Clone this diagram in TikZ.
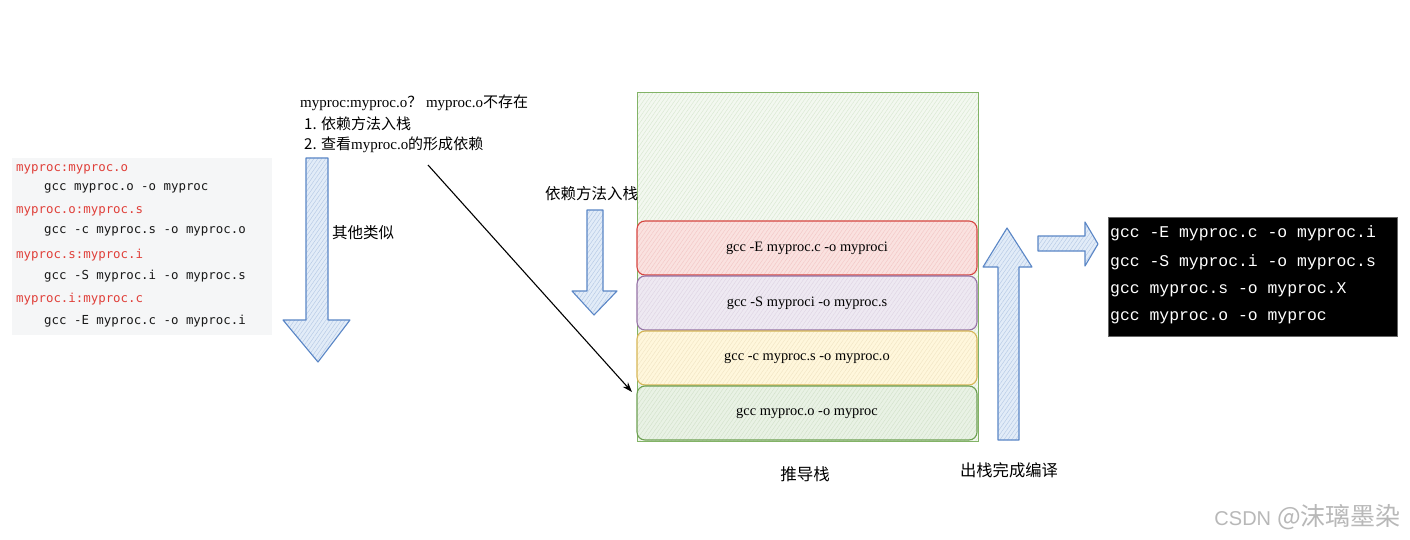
\documentclass[tikz,border=0pt]{standalone}
\usepackage{fontspec}
\setmainfont{Liberation Serif}
\setmonofont{DejaVu Sans Mono}
\newfontfamily\cjk{Noto Sans CJK SC}
\newfontfamily\cmono{Liberation Mono}
\newfontfamily\wmsans{Liberation Sans}
\usetikzlibrary{patterns.meta,arrows.meta}
\definecolor{codebg}{HTML}{F5F6F7}
\definecolor{codered}{HTML}{E0403A}
\definecolor{arrowblue}{HTML}{5A86C6}
\definecolor{arrowfill}{HTML}{E2ECF8}
\definecolor{grn}{HTML}{82B366}
\definecolor{grnfill}{HTML}{F3F8F0}
\definecolor{redb}{HTML}{D64540}
\definecolor{redfill}{HTML}{FAE2E0}
\definecolor{purb}{HTML}{9673A6}
\definecolor{purfill}{HTML}{EEE9F2}
\definecolor{yelb}{HTML}{D6B656}
\definecolor{yelfill}{HTML}{FFF7DC}
\definecolor{grnb2}{HTML}{6DA052}
\definecolor{grnfill2}{HTML}{E9F2E5}
\tikzset{
  codelbl/.style={anchor=west, inner sep=0pt, font=\ttfamily\fontsize{12.4}{14}\selectfont, text=codered},
  codecmd/.style={anchor=west, inner sep=0pt, font=\ttfamily\fontsize{12.4}{14}\selectfont, text=black!90},
  hatch/.style={pattern={Lines[angle=55,distance=3.2pt,line width=0.45pt]}, pattern color=#1},
  blockarrow/.style={draw=arrowblue, line width=1.1pt, line join=round,
     preaction={fill=arrowfill}, hatch=arrowblue!45},
  cjklbl/.style={inner sep=0pt, font=\cjk\fontsize{15.5}{18}\selectfont},
  toptext/.style={anchor=west, inner sep=0pt, font=\fontsize{15}{18}\selectfont},
  stackrow/.style={rounded corners=8pt, line width=1.1pt, minimum width=340pt, minimum height=54pt, inner sep=0pt,
     font=\fontsize{14.4}{17}\selectfont},
  termline/.style={anchor=west, inner sep=0pt, font=\cmono\fontsize{16.4}{19}\selectfont, text=white},
}
\begin{document}
\begin{tikzpicture}[x=1pt,y=-1pt]
\useasboundingbox (0,0) rectangle (1410,540);
\fill[white] (0,0) rectangle (1410,540);

% left code box
\node[fill=codebg, minimum width=260pt, minimum height=177pt, inner sep=0pt, anchor=north west] (codebox) at (12,158) {};
\node[codelbl] (l1) at (16,169) {myproc:myproc.o};
\node[codecmd] (c1) at (44,188) {gcc myproc.o -o myproc};
\node[codelbl] (l2) at (16,211) {myproc.o:myproc.s};
\node[codecmd] (c2) at (44,231) {gcc -c myproc.s -o myproc.o};
\node[codelbl] (l3) at (16,255) {myproc.s:myproc.i};
\node[codecmd] (c3) at (44,276) {gcc -S myproc.i -o myproc.s};
\node[codelbl] (l4) at (16,299) {myproc.i:myproc.c};
\node[codecmd] (c4) at (44,321) {gcc -E myproc.c -o myproc.i};

% big down arrow
\draw[blockarrow] (306,158) -- (328,158) -- (328,320) -- (350,320) -- (318,362) -- (283,320) -- (306,320) -- cycle;
\node[cjklbl, anchor=west] (similar) at (332,233) {其他类似};

% top explanation text
\node[toptext] (t1) at (300,103) {myproc:myproc.o{\cjk ？} myproc.o{\cjk 不存在}};
\node[toptext] (t2) at (304,124) {{\cjk 1. 依赖方法入栈}};
\node[toptext] (t3) at (304,145) {{\cjk 2. 查看}myproc.o{\cjk 的形成依赖}};

% stack
\node[draw=grn, line width=1.2pt, preaction={fill=grnfill}, hatch=grn!30,
      minimum width=341pt, minimum height=349pt, inner sep=0pt, anchor=north west] (stack) at (637,92) {};
\node[stackrow, draw=redb, preaction={fill=redfill}, hatch=redb!30] (r1) at (807,248) {gcc -E myproc.c -o myproci};
\node[stackrow, draw=purb, preaction={fill=purfill}, hatch=purb!30] (r2) at (807,303) {gcc -S myproci -o myproc.s};
\node[stackrow, draw=yelb, preaction={fill=yelfill}, hatch=yelb!35] (r3) at (807,358) {gcc -c myproc.s -o myproc.o};
\node[stackrow, draw=grnb2, preaction={fill=grnfill2}, hatch=grnb2!30] (r4) at (807,413) {gcc myproc.o -o myproc};
\node[cjklbl, font=\cjk\fontsize{16.5}{19}\selectfont] (stacklbl) at (805,474) {推导栈};

% black arrow
\coordinate (ba1) at (428,165);
\coordinate (ba2) at (632,392);
\draw[-{Stealth[length=10pt,width=7pt]}, line width=1.1pt, black] (ba1) -- (ba2);

% push label and arrow
\node[cjklbl, anchor=west] (push) at (545,194) {依赖方法入栈};
\draw[blockarrow] (587,210) -- (603,210) -- (603,291) -- (617,291) -- (594,315) -- (572,291) -- (587,291) -- cycle;

% up arrow
\draw[blockarrow] (998,440) -- (1019,440) -- (1019,267) -- (1032,267) -- (1007,228) -- (983,267) -- (998,267) -- cycle;
\node[cjklbl, font=\cjk\fontsize{16.3}{19}\selectfont] (poplbl) at (1009,470) {出栈完成编译};

% right arrow
\draw[blockarrow] (1038,236) -- (1085,236) -- (1085,222) -- (1098,244) -- (1085,266) -- (1085,251) -- (1038,251) -- cycle;

% terminal box
\node[fill=black, draw=black!60, minimum width=289pt, minimum height=119pt, inner sep=0pt, anchor=north west] (term) at (1108,217) {};
\node[termline] (g1) at (1110,233) {gcc -E myproc.c -o myproc.i};
\node[termline] (g2) at (1110,262) {gcc -S myproc.i -o myproc.s};
\node[termline] (g3) at (1110,290) {gcc myproc.s -o myproc.X};
\node[termline] (g4) at (1110,318) {gcc myproc.o -o myproc};

% watermark
\node[anchor=east, inner sep=0pt, text=black!28] (wm) at (1401,517) {{\wmsans\fontsize{20}{22}\selectfont CSDN\hspace{6pt}}{\cjk\fontsize{25}{27}\selectfont @沫璃墨染}};
\end{tikzpicture}
\end{document}
